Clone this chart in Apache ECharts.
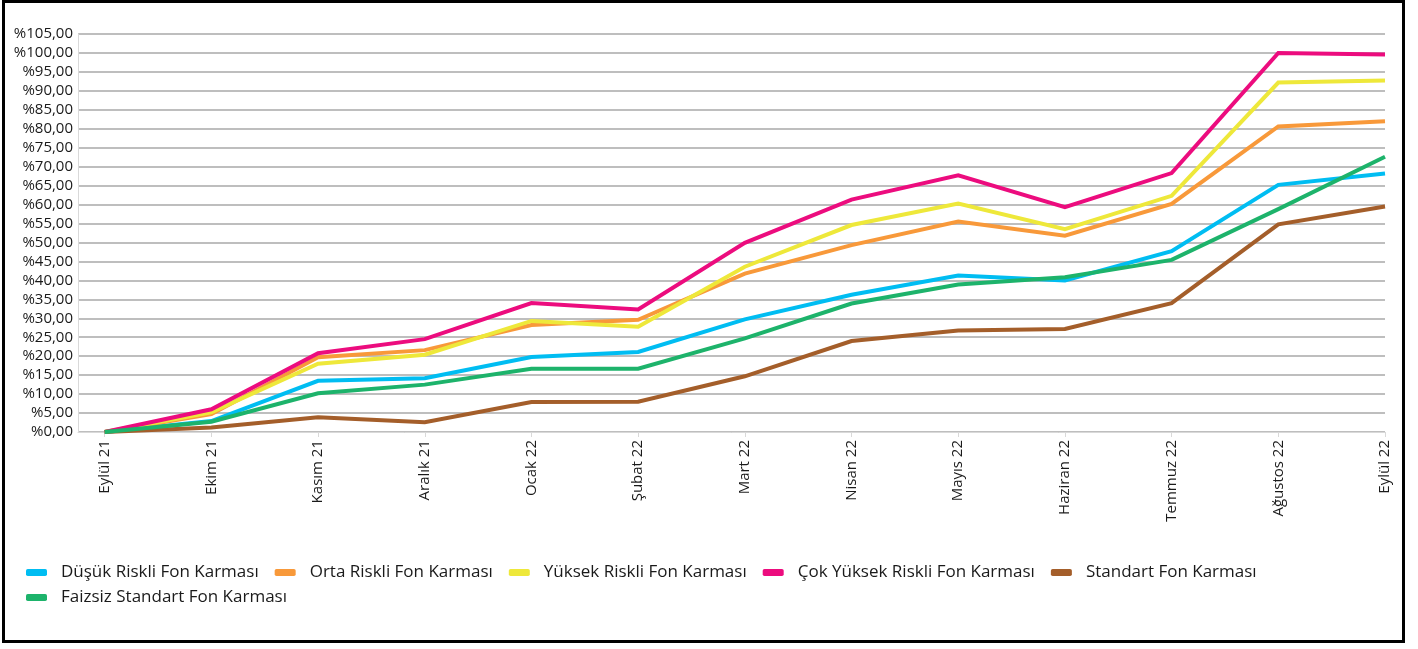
<!DOCTYPE html>
<html>
<head>
<meta charset="utf-8">
<script src="https://cdn.jsdelivr.net/npm/echarts@6/dist/echarts.min.js"></script>
<style>
    html, body {margin: 0; padding: 0; background: #fff;}
    #chart {width: 1418px; height: 649px;}
</style>
</head>
<body>
<div id="chart"></div>
<script>
// month labels on the x axis
const months = ['Eylül 21', 'Ekim 21', 'Kasım 21', 'Aralık 21', 'Ocak 22', 'Şubat 22',
    'Mart 22', 'Nisan 22', 'Mayıs 22', 'Haziran 22', 'Temmuz 22', 'Ağustos 22', 'Eylül 22'];

// cumulative return, percent
const dusukRiskli = [0, 2.9, 13.5, 14.2, 19.8, 21.1, 29.7, 36.2, 41.3, 40.0, 47.7, 65.2, 68.2];
const ortaRiskli = [0, 4.7, 19.7, 21.6, 28.2, 29.6, 41.8, 49.3, 55.5, 51.8, 60.2, 80.6, 82.0];
const yuksekRiskli = [0, 5.2, 18.0, 20.4, 29.3, 27.8, 43.6, 54.6, 60.3, 53.5, 62.3, 92.2, 92.7];
const cokYuksekRiskli = [0, 6.0, 20.8, 24.5, 34.0, 32.3, 49.9, 61.3, 67.7, 59.3, 68.3, 100.0, 99.6];
const standart = [0, 1.2, 3.9, 2.6, 7.9, 8.0, 14.7, 24.0, 26.8, 27.2, 34.0, 54.8, 59.5];
const faizsizStandart = [0, 2.7, 10.2, 12.5, 16.7, 16.7, 24.7, 33.9, 38.9, 40.8, 45.4, 58.8, 72.6];

const seriesList = [
    {name: 'Düşük Riskli Fon Karması', values: dusukRiskli, color: '#00bdf2'},
    {name: 'Orta Riskli Fon Karması', values: ortaRiskli, color: '#f8993a'},
    {name: 'Yüksek Riskli Fon Karması', values: yuksekRiskli, color: '#eee83a'},
    {name: 'Çok Yüksek Riskli Fon Karması', values: cokYuksekRiskli, color: '#ec0c7e'},
    {name: 'Standart Fon Karması', values: standart, color: '#a45e2a'},
    {name: 'Faizsiz Standart Fon Karması', values: faizsizStandart, color: '#1db36b'}
];

const FONT = "'Open Sans', 'Noto Sans', sans-serif";
const monthIdx = months.map((m, i) => i);

const chart = echarts.init(document.getElementById('chart'), null, {renderer: 'canvas'});

const options = {
    animation: false,
    backgroundColor: '#fff',
    grid: {left: 78, right: 33, top: 34, bottom: 217, containLabel: false},
    xAxis: {
        type: 'value',
        min: -0.25,
        max: 12,
        axisLine: {show: true, onZero: false, lineStyle: {color: '#d9d9d9', width: 1}},
        axisTick: {show: true, length: 5, customValues: monthIdx, lineStyle: {color: '#d9d9d9'}},
        splitLine: {show: false},
        axisLabel: {
            customValues: monthIdx,
            rotate: 90,
            margin: 8,
            color: '#1a1a1a',
            fontFamily: FONT,
            fontSize: 15,
            formatter: v => months[Math.round(v)] || ''
        }
    },
    yAxis: {
        type: 'value',
        min: 0,
        max: 105,
        interval: 5,
        axisLine: {show: true, onZero: false, lineStyle: {color: '#d9d9d9'}},
        axisTick: {show: false},
        splitLine: {show: true, lineStyle: {color: '#a9a9a9', width: 1.5}},
        axisLabel: {
            margin: 5,
            color: '#1a1a1a',
            fontFamily: FONT,
            fontSize: 15,
            formatter: v => '%' + v.toFixed(2).replace('.', ',')
        }
    },
    legend: {
        left: 26,
        top: 564,
        width: 1340,
        padding: 0,
        itemWidth: 21,
        itemHeight: 7,
        itemGap: 8,
        icon: 'roundRect',
        textStyle: {
            fontFamily: FONT,
            fontSize: 17,
            color: '#1a1a1a',
            lineHeight: 17,
            padding: [0, 8, 0, 9]
        },
        data: seriesList.map(s => s.name)
    },
    graphic: [{
        type: 'rect',
        silent: true,
        shape: {x: 3.5, y: 1.5, width: 1400, height: 640},
        style: {fill: 'none', stroke: '#000', lineWidth: 3}
    }],
    series: seriesList.map(s => ({
        name: s.name,
        type: 'line',
        data: s.values.map((v, i) => [i, v]),
        symbol: 'none',
        color: s.color,
        lineStyle: {width: 4, color: s.color, join: 'miter'},
        z: 3
    }))
};

chart.setOption(options);
</script>
</body>
</html>
